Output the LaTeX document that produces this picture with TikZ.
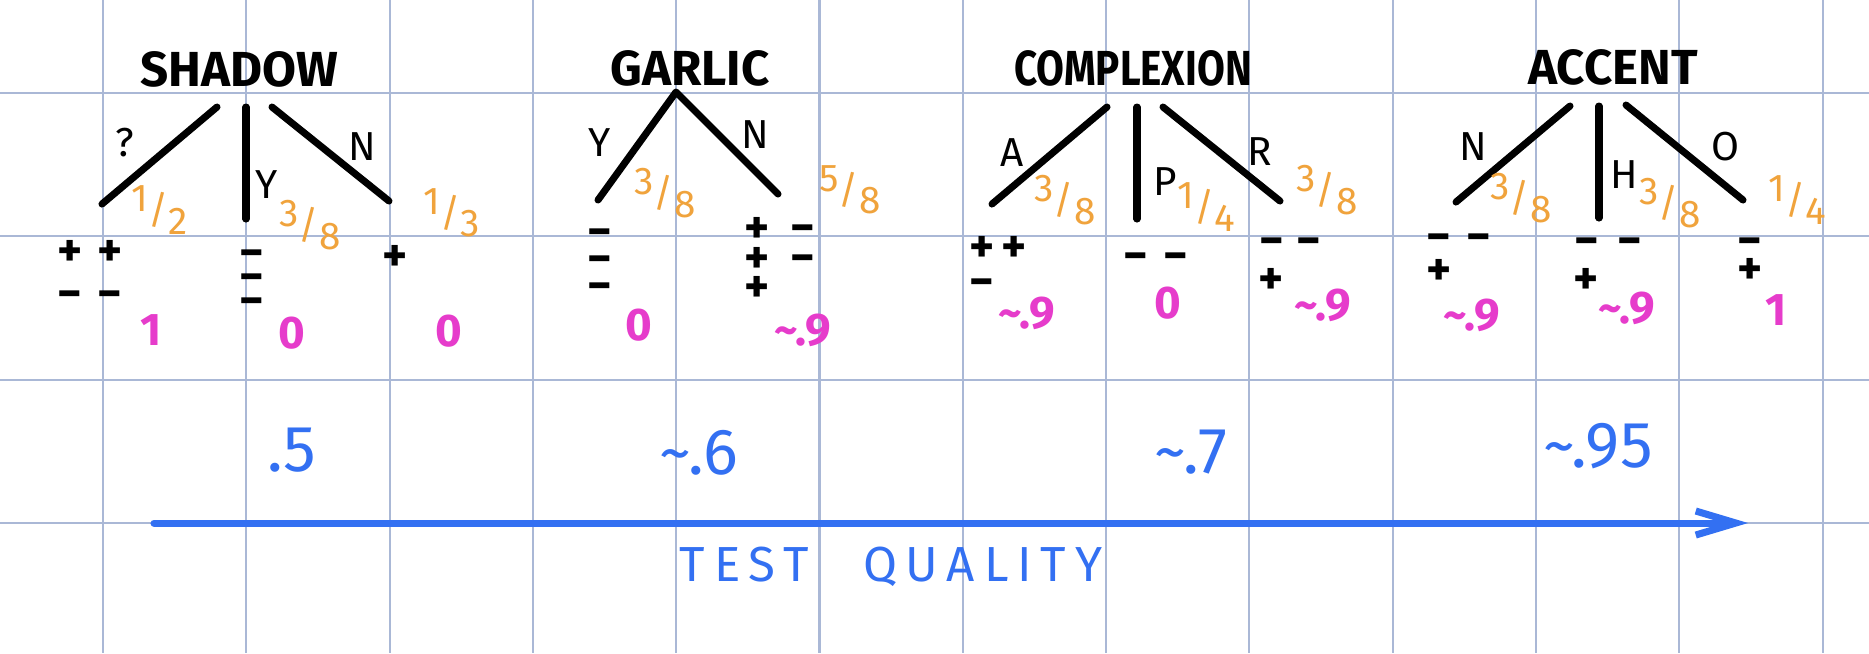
\documentclass[tikz,border=0pt]{standalone}
\usepackage{fontspec}
\setmainfont{Fira Sans}
\usepackage{tikz}
\usetikzlibrary{arrows.meta}
\definecolor{gridblue}{HTML}{AAB8D6}
\definecolor{penorange}{HTML}{F0A33C}
\definecolor{penpink}{HTML}{E63CCB}
\definecolor{penblue}{HTML}{3370F2}
\newcommand{\handfrac}[2]{\raisebox{.3em}{#1}/\raisebox{-.28em}{#2}}
\newcommand{\signcol}[2][0.4cm]{\makebox[#1]{#2}}

\begin{document}
\begin{tikzpicture}[x=0.01cm,y=-0.01cm,
  every node/.style={inner sep=0pt},
  gridline/.style={gridblue,line width=0.6pt},
  branch/.style={line width=2pt,line cap=round},
  treetitle/.style={font=\bfseries\fontsize{14}{16}\selectfont},
  edgelabel/.style={font=\fontsize{11.5}{13}\selectfont},
  fracnote/.style={penorange,font=\fontsize{11}{13}\selectfont},
  signmark/.style={font=\bfseries\fontsize{13.5}{#1}\selectfont,align=left},
  score/.style={penpink,font=\bfseries\fontsize{13}{15}\selectfont},
  quality/.style={penblue,font=\fontsize{18.5}{20}\selectfont}]
\newcommand{\gridsep}{143.3}
\newcommand{\gridx}{103}
\newcommand{\gridy}{93}

\fill[white] (0,0) rectangle (1869,653);
\useasboundingbox (0,0) rectangle (1869,653);
\foreach \i in {0,...,12}
  \draw[gridline] ({\gridx+\gridsep*\i},0) -- ({\gridx+\gridsep*\i},653);
\foreach \j in {0,...,3}
  \draw[gridline] (0,{\gridy+\gridsep*\j}) -- (1869,{\gridy+\gridsep*\j});

% shadow
\node[treetitle] (shadow) at (239,69) {SHADOW};
\coordinate (sh-t1) at (217,107); \coordinate (sh-l1) at (102,204);
\coordinate (sh-t2) at (246,107); \coordinate (sh-l2) at (246,219);
\coordinate (sh-t3) at (272,107); \coordinate (sh-l3) at (389,201);
\draw[branch] (sh-t1) -- (sh-l1);
\draw[branch] (sh-t2) -- (sh-l2);
\draw[branch] (sh-t3) -- (sh-l3);
\node[edgelabel] (sh-e1) at (125,143) {?};
\node[edgelabel] (sh-e2) at (267,185) {Y};
\node[edgelabel] (sh-e3) at (362,147) {N};
\node[fracnote] (sh-f1) at (160,210) {\handfrac{1}{2}};
\node[fracnote] (sh-f2) at (310,225) {\handfrac{3}{8}};
\node[fracnote] (sh-f3) at (452,213) {\handfrac{1}{3}};
\node[signmark=12.2pt] (sh-s1) at (90,275) {\signcol{+}\signcol{+}\\\signcol{−}\signcol{−}};
\node[signmark=6.8pt] (sh-s2) at (252,283) {−\\−\\−};
\node[signmark=12pt] (sh-s3) at (395,258) {+};
\node[score] (sh-p1) at (151,330) {1};
\node[score] (sh-p2) at (292,333) {0};
\node[score] (sh-p3) at (449,331) {0};

% garlic
\node[treetitle] (garlic) at (690,68) {GARLIC};
\coordinate (ga-t) at (676,92);
\coordinate (ga-l1) at (598,200); \coordinate (ga-l2) at (778,194);
\draw[branch,line join=round] (ga-l1) -- (ga-t) -- (ga-l2);
\node[edgelabel] (ga-e1) at (600,143) {Y};
\node[edgelabel] (ga-e2) at (755,135) {N};
\node[fracnote] (ga-f1) at (665,193) {\handfrac{3}{8}};
\node[fracnote] (ga-f2) at (850,190) {\handfrac{5}{8}};
\node[signmark=7.7pt] (ga-s1) at (600,265) {−\\−\\−};
\node[signmark=8.5pt] (ga-s2) at (780,260) {\signcol[0.46cm]{+}\signcol[0.46cm]{−}\\\signcol[0.46cm]{+}\signcol[0.46cm]{−}\\\signcol[0.46cm]{+}};
\node[score] (ga-p1) at (639,325) {0};
\node[score] (ga-p2) at (803,330) {\textasciitilde.9};

% complexion
\node[treetitle] (complexion) at (1133,68) {\scalebox{0.82}[1]{COMPLEXION}};
\coordinate (co-t1) at (1107,107); \coordinate (co-l1) at (992,204);
\coordinate (co-t2) at (1137,107); \coordinate (co-l2) at (1137,219);
\coordinate (co-t3) at (1163,107); \coordinate (co-l3) at (1280,201);
\draw[branch] (co-t1) -- (co-l1);
\draw[branch] (co-t2) -- (co-l2);
\draw[branch] (co-t3) -- (co-l3);
\node[edgelabel] (co-e1) at (1012,153) {A};
\node[edgelabel] (co-e2) at (1165,182) {P};
\node[edgelabel] (co-e3) at (1260,152) {R};
\node[fracnote] (co-f1) at (1065,200) {\handfrac{3}{8}};
\node[fracnote] (co-f2) at (1206,207) {\handfrac{1}{4}};
\node[fracnote] (co-f3) at (1327,190) {\handfrac{3}{8}};
\node[signmark=9.7pt] (co-s1) at (998,267) {\signcol[0.32cm]{+}\signcol[0.32cm]{+}\\\signcol[0.32cm]{−}};
\node[signmark=12pt] (co-s2) at (1156,262) {\signcol{−}\signcol{−}};
\node[signmark=10.8pt] (co-s3) at (1290,266) {\signcol[0.37cm]{−}\signcol[0.37cm]{−}\\\signcol[0.37cm]{+}};
\node[score] (co-p1) at (1027,313) {\textasciitilde.9};
\node[score] (co-p2) at (1168,303) {0};
\node[score] (co-p3) at (1323,305) {\textasciitilde.9};

% accent
\node[treetitle] (accent) at (1613,67) {ACCENT};
\coordinate (ac-t1) at (1570,106); \coordinate (ac-l1) at (1456,202);
\coordinate (ac-t2) at (1599,106); \coordinate (ac-l2) at (1599,218);
\coordinate (ac-t3) at (1626,105); \coordinate (ac-l3) at (1743,200);
\draw[branch] (ac-t1) -- (ac-l1);
\draw[branch] (ac-t2) -- (ac-l2);
\draw[branch] (ac-t3) -- (ac-l3);
\node[edgelabel] (ac-e1) at (1473,147) {N};
\node[edgelabel] (ac-e2) at (1624,175) {H};
\node[edgelabel] (ac-e3) at (1725,147) {O};
\node[fracnote] (ac-f1) at (1521,198) {\handfrac{3}{8}};
\node[fracnote] (ac-f2) at (1670,203) {\handfrac{3}{8}};
\node[fracnote] (ac-f3) at (1797,200) {\handfrac{1}{4}};
\node[signmark=9.4pt] (ac-s1) at (1459,260) {\signcol{−}\signcol{−}\\\signcol{+}};
\node[signmark=10.8pt] (ac-s2) at (1608,266) {\signcol[0.43cm]{−}\signcol[0.43cm]{−}\\\signcol[0.43cm]{+}};
\node[signmark=8pt] (ac-s3) at (1750,261) {−\\+};
\node[score] (ac-p1) at (1472,315) {\textasciitilde.9};
\node[score] (ac-p2) at (1627,308) {\textasciitilde.9};
\node[score] (ac-p3) at (1776,310) {1};

% test quality axis
\node[quality] (q-shadow) at (292,450) {.5};
\node[quality] (q-garlic) at (699,453) {\textasciitilde.6};
\node[quality] (q-complexion) at (1191,452) {\textasciitilde.7};
\node[quality] (q-accent) at (1598,446) {\textasciitilde.95};
\coordinate (axis-start) at (154,523);
\coordinate (axis-end) at (1748,523);
\draw[penblue,line width=2pt,line cap=round,-{Straight Barb[length=0.4cm,width=0.24cm]}] (axis-start) -- (axis-end);
\node[penblue,font=\addfontfeature{LetterSpace=18}\fontsize{14}{16}\selectfont] (axis-label) at (891,567) {TEST\hskip 1.1em QUALITY};
\end{tikzpicture}
\end{document}
